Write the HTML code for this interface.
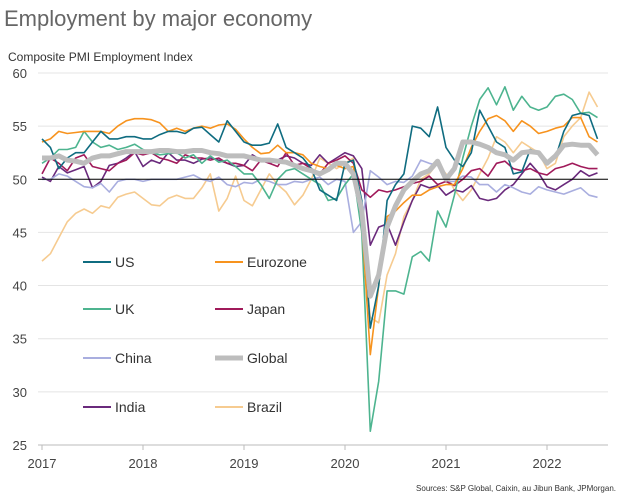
<!DOCTYPE html>
<html><head><meta charset="utf-8"><style>
body{margin:0;background:#fff;font-family:"Liberation Sans",sans-serif}
</style></head><body>
<svg width="622" height="499" xmlns="http://www.w3.org/2000/svg" font-family="Liberation Sans, sans-serif">
<text x="4" y="26" font-size="22" fill="#666">Employment by major economy</text>
<text x="8" y="61" font-size="12" fill="#333">Composite PMI Employment Index</text>
<g id="grid"></g><g id="series"></g><g id="legend"></g>
<text x="616" y="491" font-size="8" fill="#333" text-anchor="end">Sources: S&amp;P Global, Caixin, au Jibun Bank, JPMorgan.</text>
</svg>
<script>
const yTicks=[25,30,35,40,45,50,55,60];
const xLabels=["2017","2018","2019","2020","2021","2022"];
const seriesNames=["Brazil","India","China","Japan","UK","Eurozone","US","Global"];
const US=[53.8,53,51,52,52.5,52.5,53.5,54.5,53.8,53.8,54,54,53.8,53.8,54.2,54.5,54.5,54.3,54.8,54.9,54.2,53.5,55.5,54.5,53.5,53.2,53.2,53.4,55.2,53,52.5,52,51,49,48.5,48,51.5,51.8,48,36,40,48,49.5,50.5,55,54.8,54,56.8,53,51.8,51.2,52.5,56.5,55,53.5,53,50.5,50.7,52.8,52.5,51.5,52,54.5,56,56.2,56,53.8];
const Eurozone=[53.5,53.8,54.5,54.3,54.4,54.5,54.5,54.5,54.3,55,55.5,55.7,55.7,55.6,55.3,54.5,54.8,54.5,54.8,55,54.8,55.1,55.2,54.7,53.8,53,52.4,52.5,53.2,52.5,52.5,52.3,51.5,51.2,51,51.3,51,51.2,46,33.5,40,46.5,47,47.8,48.5,48.5,49,49.3,49.5,49.5,51,53,54.5,55.7,56,55.5,54.5,55.5,55,54.3,54.5,54.8,55,55.8,55.8,54,53.5];
const UK=[51.5,52,52.8,52.8,53,54.5,53.5,53,53.2,52.8,53,53.3,52.8,52.5,52.3,52.4,52.5,52,52.3,51.5,52.2,51.6,51.8,51.2,50.5,50.5,49.5,48.2,50,50.8,51,50.5,50,49.5,48,48.2,49.5,50.5,45,26.3,31,39.5,39.5,39.2,42.7,43.2,42.3,47,45.5,48.5,52,55,57.5,58.6,57,58.7,56.5,57.8,56.8,56.5,56.8,57.8,58,57.5,56.2,56.3,55.8];
const Japan=[50.5,52,51.5,50.8,52,52.3,51.2,51,50.8,51.5,51.8,52.5,52.3,52.5,52,51.8,51.5,52.3,52,52,51.8,52,51.5,51.5,51.3,50.8,51.8,51.5,51.2,52.5,51.3,51.5,51,50.5,51.5,51.8,52.2,51.5,49,48.3,49,48.8,49,49.3,49.6,49.8,50.3,49.5,49.8,49.4,50,50.8,51,50.3,51.5,51.7,51,50.8,51,50.6,50.4,51,51.2,51.5,51.2,51,51];
const China=[50,50,50.5,50.3,49.8,49.3,49.2,49.6,48.8,49.8,50,50,49.8,50,50,50,50,50.2,50.4,50,49.8,50.2,49.5,49.3,49.7,49.6,50,49.8,49.5,49.5,49.8,49.7,50,50.2,49.5,50,49.8,45,46,50.8,50.2,49.5,49.8,49.7,50.3,51.8,51.5,51.3,49.8,49.8,50.3,50.2,49.5,49.5,48.8,49.5,49.2,48.8,48.6,49.3,49,48.8,48.6,48.9,49.2,48.5,48.3];
const Global=[52,52,52.2,51.8,51.7,51.5,52,52.2,52.2,52.4,52.6,52.6,52.6,52.6,52.7,52.7,52.6,52.6,52.7,52.7,52.5,52.4,52.2,52.2,52.2,52,51.8,51.8,51.7,51.6,51.3,51,50.8,50.5,50.9,51.5,51.5,50.5,47,39,41,45.5,47.5,49,49.8,50.5,50.8,51.7,50,51,53.5,53.5,53.3,53,52.5,52.3,51.8,52.5,52.6,52.5,51.5,52.2,53.2,53.3,53.2,53.2,52.3];
const India=[50.2,49.8,51.2,50.6,50.9,51.2,49.2,49.8,51.3,51.5,52,52.6,51.2,51.8,51.5,52.5,51.8,51.8,51.5,51.9,52,51.8,51.5,51.2,51.3,52.3,51.8,51.5,51.8,52.2,52,51.5,51.3,52.3,51.5,52,52.5,52.2,51,43.8,45.5,45.8,43.8,46,48,49.5,49.2,49.4,48.5,49,48.8,49.4,48.2,48,48.2,49,49.5,50.5,51.5,50.6,49.3,49,49.5,50,50.8,50.3,50.6];
const Brazil=[42.3,43,44.5,46,46.8,47.2,46.8,47.5,47.3,48.3,48.6,48.8,48.2,47.6,47.5,48.2,48.5,48.2,48.2,49.2,50.5,47,48.2,50.3,48,47.5,49,50.5,49.5,48.8,47.6,48.5,50,52,51.5,51,51.5,52,45,37,36.5,41,43,46.5,48,50,50.5,51.5,50.5,49,48,49,50.5,52,54,53.5,52.5,53.5,53,52.5,51,51.5,54,55,55.8,58.2,56.8];
const dataMap={US,Eurozone,UK,Japan,China,Global,India,Brazil};
const colors={US:"#0f6c80",Eurozone:"#f7931e",UK:"#4db48f",Japan:"#a01a5a",China:"#a9aedf",Global:"#bdbdbd",India:"#6a2a7c",Brazil:"#f6cb90"};
const NS="http://www.w3.org/2000/svg";
const X0=42,PX_YEAR=101,Y0=445,PX_UNIT=10.63;
function xs(i){return X0+i*PX_YEAR/12;}
function ys(v){return Y0-(v-25)*PX_UNIT;}
function mk(t,a,p){const e=document.createElementNS(NS,t);for(const k in a)e.setAttribute(k,a[k]);p.appendChild(e);return e;}
const grid=document.getElementById('grid');
yTicks.forEach(v=>{
 const l=mk('line',{x1:38,x2:608,y1:ys(v),y2:ys(v),stroke:v===25?'#bbb':'#e4e4e4','stroke-width':1},grid);
 
 
 const t=mk('text',{x:27,y:ys(v)+5,'font-size':13,fill:'#444','text-anchor':'end'},grid);
 t.textContent=v;
 
 
});
xLabels.forEach((s,i)=>{
 const x=X0+i*PX_YEAR;
 const tk=mk('line',{x1:x,x2:x,y1:445,y2:450,stroke:'#bbb'},grid);
 
 
 const t=mk('text',{x:x,y:468,'font-size':13,fill:'#444','text-anchor':'middle'},grid);
 t.textContent=s;
 
 
});
const sg=document.getElementById('series');
seriesNames.forEach(n=>{
 const d=dataMap[n].map((v,i)=>(i?'L':'M')+xs(i).toFixed(1)+','+ys(v).toFixed(1)).join('');
 const p=mk('path',{d:d,fill:'none',stroke:colors[n],'stroke-width':n==='Global'?5:1.6,'stroke-linejoin':'round'},sg);
 
 
});
const z=mk('line',{x1:38,x2:608,y1:ys(50),y2:ys(50),stroke:'#000','stroke-width':1},sg);


const lg=document.getElementById('legend');
const legOrder=[["US","Eurozone"],["UK","Japan"],["China","Global"],["India","Brazil"]];
const rowY=[262,309,358,407];
legOrder.forEach((row,r)=>row.forEach((n,c)=>{
 const x=c?215:83;
 const l=mk('line',{x1:x,x2:x+28,y1:rowY[r],y2:rowY[r],stroke:colors[n],'stroke-width':n==='Global'?5:2},lg);
 
 
 const t=mk('text',{x:x+32,y:rowY[r]+5,'font-size':14,fill:'#333'},lg);
 t.textContent=n;
 
 
}));
</script>
</body></html>
